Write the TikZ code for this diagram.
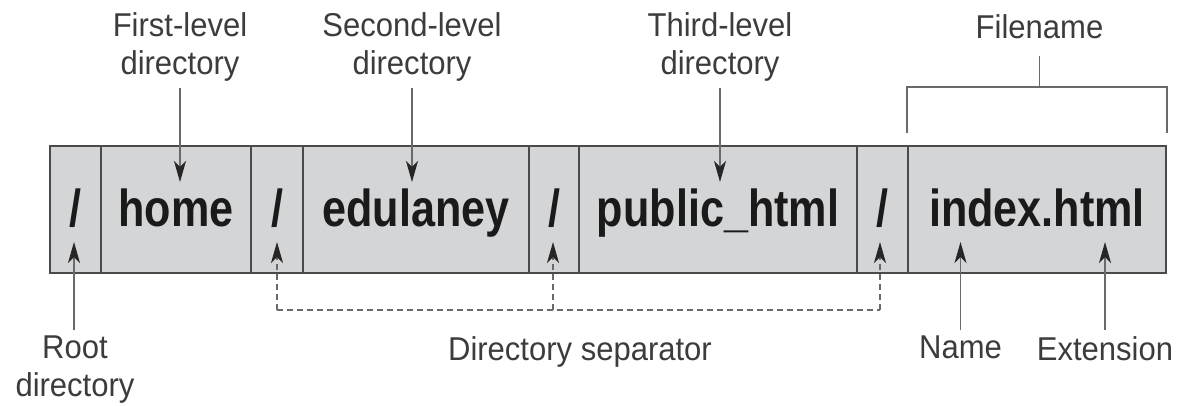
\documentclass[tikz,border=0pt]{standalone}
\usepackage{fontspec}
\usetikzlibrary{arrows.meta}
\newfontfamily\bigfont[FakeStretch=0.83]{Liberation Sans}
\newfontfamily\labfont[FakeStretch=0.94]{Liberation Sans}
\definecolor{cellfill}{HTML}{D4D5D7}
\definecolor{cellline}{HTML}{4A4A4A}
\definecolor{celltext}{HTML}{1A1A1A}
\definecolor{labtext}{HTML}{3C3C3C}
\definecolor{leadcol}{HTML}{6A6A6A}
\definecolor{tipcol}{HTML}{262626}
\tikzset{
  cell/.style={draw=cellline, line width=1.8pt, fill=cellfill, inner sep=0pt,
    text height=81pt, text depth=46pt, text=celltext,
    font=\bigfont\bfseries\fontsize{52}{52}\selectfont},
  lab/.style={inner sep=0pt, align=center, text=labtext,
    font=\labfont\fontsize{33}{38}\selectfont},
  leader/.style={draw=leadcol, line width=1.3pt},
  arr/.style={leader, -{Stealth[length=21pt,width=12pt,inset=6pt,color=tipcol]}},
  dleader/.style={leader, dash pattern=on 6pt off 4pt},
  darr/.style={dleader, -{Stealth[length=21pt,width=12pt,inset=6pt,color=tipcol]}}
}
\begin{document}
\begin{tikzpicture}[x=1pt,y=-1pt]
\useasboundingbox (0,0) rectangle (1178,406);
% cells
\node[cell, minimum width=51pt]  (r)   at (75.5,209.5)  {/};
\node[cell, minimum width=150pt] (home) at (176,209.5) {home};
\node[cell, minimum width=52pt]  (s1)  at (277,209.5)  {/};
\node[cell, minimum width=226pt] (edu) at (416,209.5)  {edulaney};
\node[cell, minimum width=50pt]  (s2)  at (554,209.5)  {/};
\node[cell, minimum width=278pt] (pub) at (718,209.5)  {public\_html};
\node[cell, minimum width=51pt]  (s3)  at (882.5,209.5) {/};
\node[cell, minimum width=258pt] (idx) at (1037,209.5) {index.html};
% top labels
\node[lab, anchor=north] (l1) at (180,12) {First-level\\directory};
\node[lab, anchor=north] (l2) at (412,12) {Second-level\\directory};
\node[lab, anchor=north] (l3) at (720,12) {Third-level\\directory};
\node[lab, anchor=north] (fn) at (1039.5,14) {Filename};
% bottom labels
\node[lab, anchor=north] (root) at (75,336) {Root\\directory};
\node[lab, anchor=north] (sep)  at (580,336) {Directory separator};
\node[lab, anchor=north] (nm)   at (960.5,336) {Name};
\node[lab, anchor=north] (ext)  at (1105,336) {Extension};
% top arrows
\coordinate (topy) at (0,88);
\coordinate (tipy) at (0,182);
\draw[arr] (l1.south |- topy) -- (l1.south |- tipy);
\draw[arr] (l2.south |- topy) -- (l2.south |- tipy);
\draw[arr] (l3.south |- topy) -- (l3.south |- tipy);
% filename bracket
\coordinate (stemtop) at (0,56);
\coordinate (brk) at (0,87);
\coordinate (brb) at (0,133);
\draw[leader] (fn.south |- stemtop) -- (fn.south |- brk);
\draw[leader] (idx.north west |- brb) -- (idx.north west |- brk) -- (idx.north east |- brk) -- (idx.north east |- brb);
% bottom arrows
\coordinate (boty) at (0,330);
\coordinate (btip) at (0,242);
\coordinate (rootx) at (74,0);
\draw[arr] (rootx |- boty) -- (rootx |- btip);
\draw[arr] (nm.north |- boty) -- (nm.north |- btip);
\draw[arr] (ext.north |- boty) -- (ext.north |- btip);
% separators
\coordinate (d1) at (277,310);
\coordinate (d2) at (553,310);
\coordinate (d3) at (880,310);
\draw[dleader] (d1) -- (d3);
\draw[darr] (d1) -- (d1 |- btip);
\draw[darr] (d2) -- (d2 |- btip);
\draw[darr] (d3) -- (d3 |- btip);
\end{tikzpicture}
\end{document}
